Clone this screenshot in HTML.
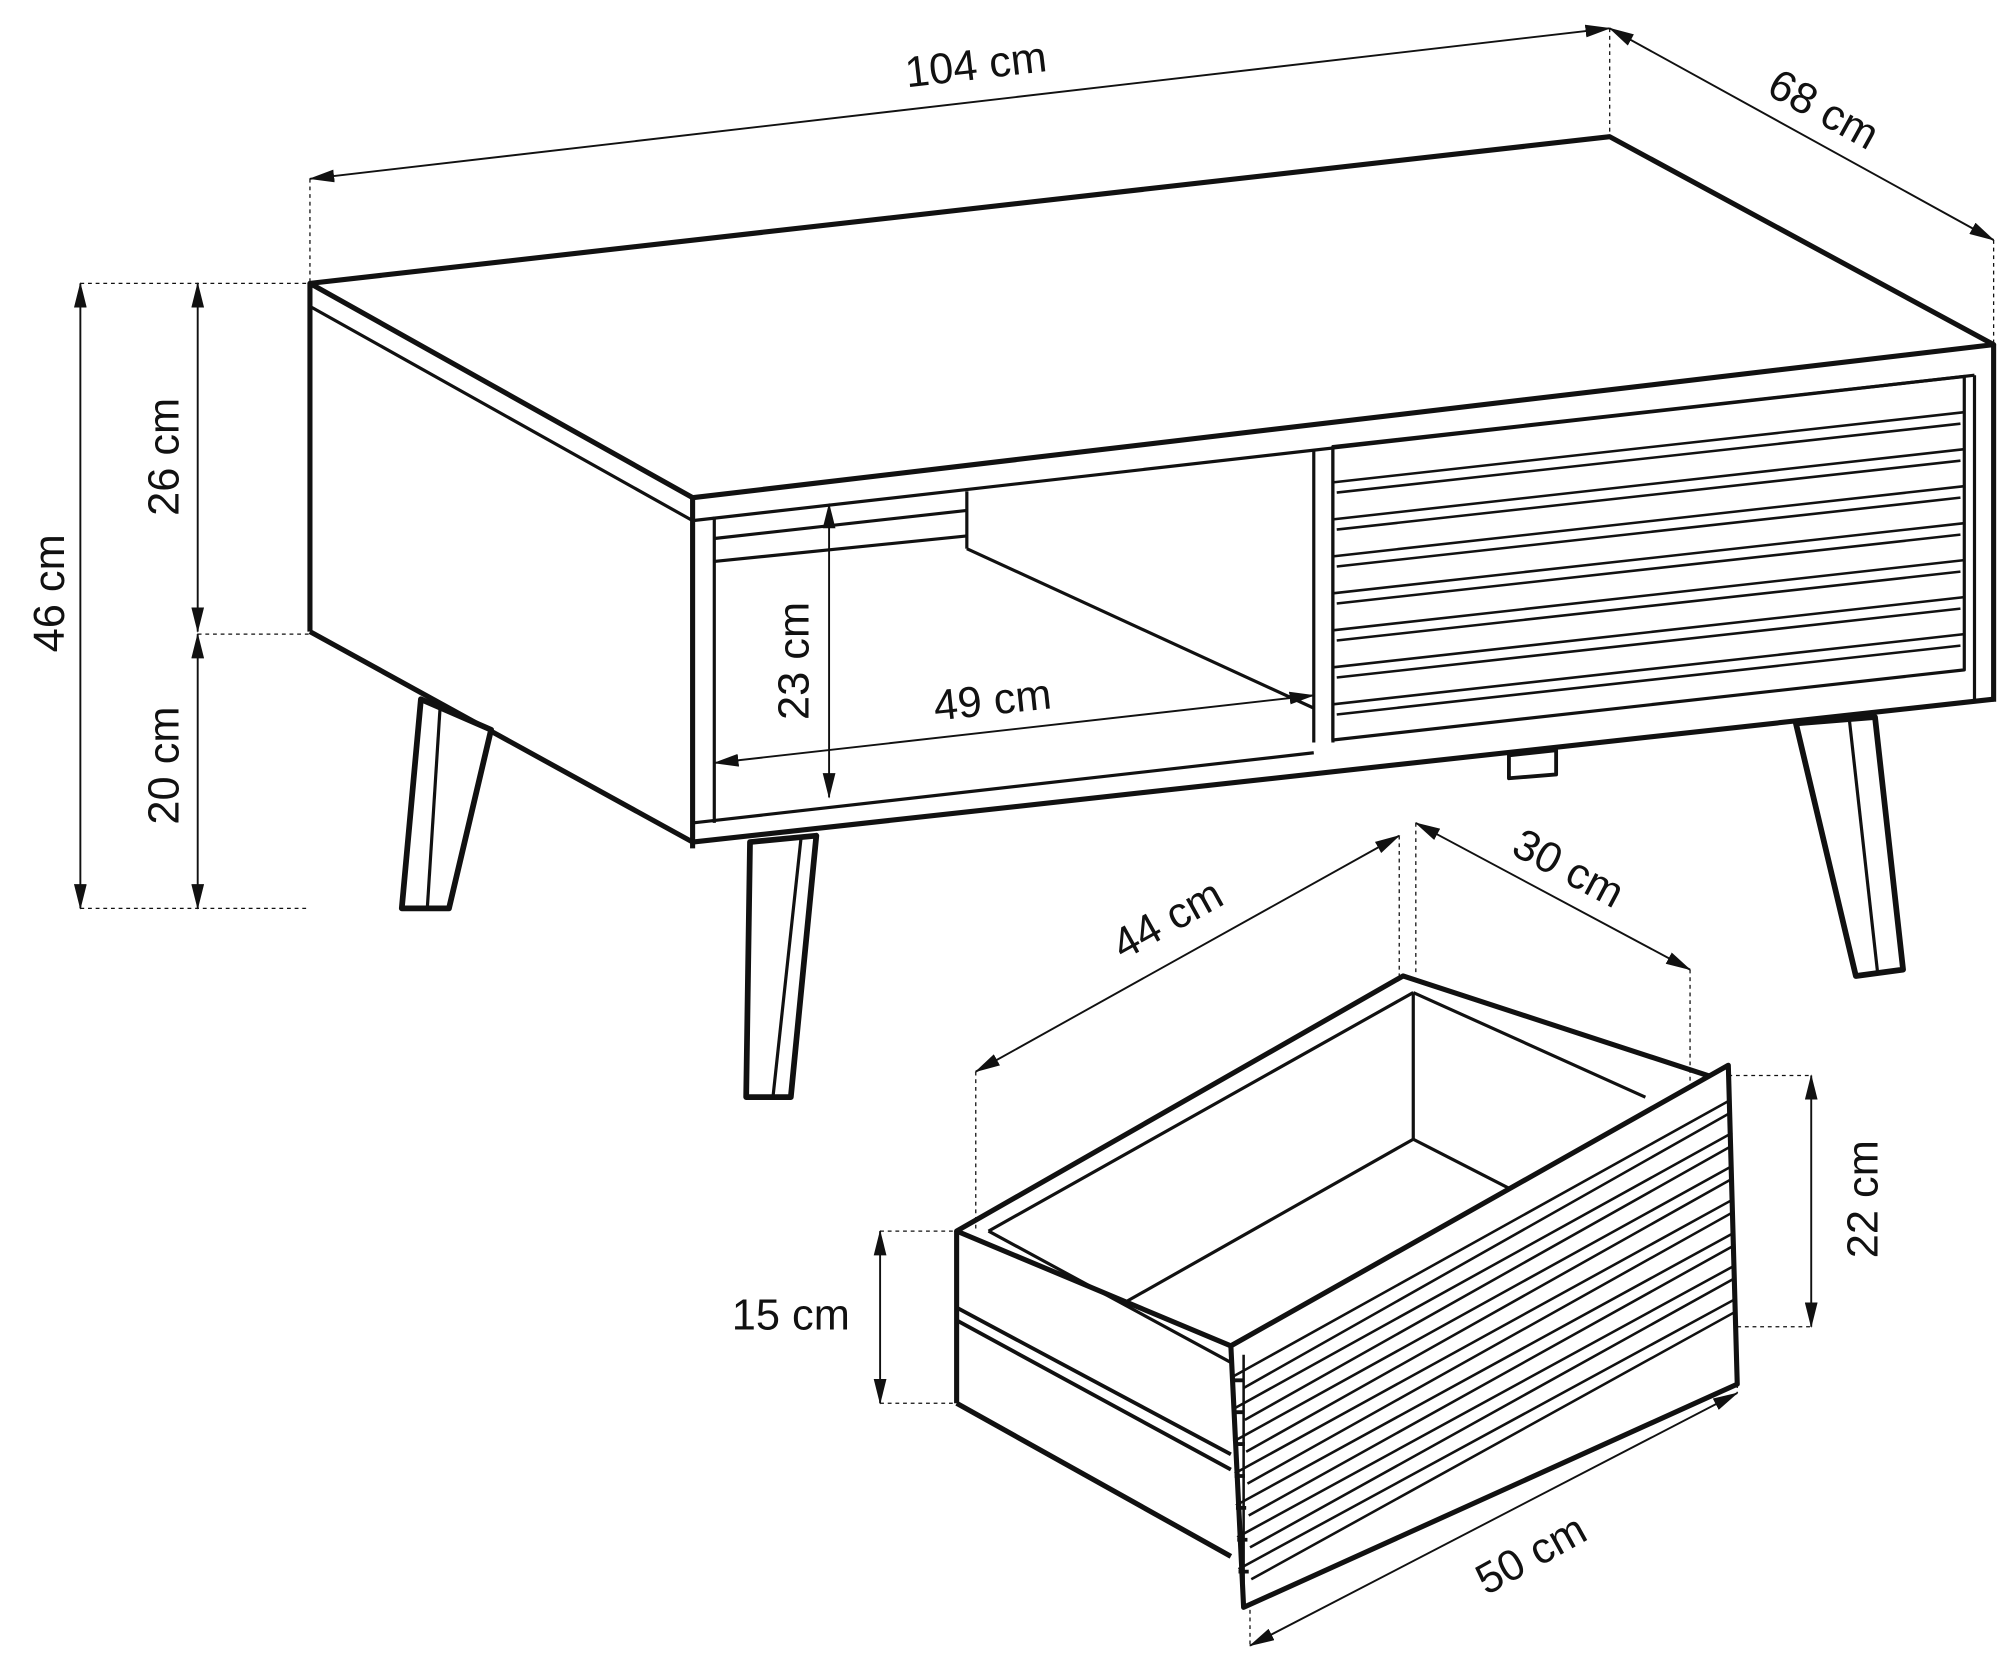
<!DOCTYPE html>
<html><head><meta charset="utf-8"><style>
html,body{margin:0;padding:0;background:#fff;}
svg{display:block}
text{font-family:"Liberation Sans",sans-serif;font-size:34px;fill:#111}
</style></head><body>
<svg width="2000" height="1679" viewBox="0 0 1568 1316" xmlns="http://www.w3.org/2000/svg">
<defs>
<marker id="a" viewBox="0 0 20 10" refX="19" refY="5" markerWidth="20" markerHeight="10" orient="auto-start-reverse" markerUnits="userSpaceOnUse"><path d="M0,0 L20,5 L0,10 z" fill="#111"/></marker>
</defs>
<g fill="none" stroke="#111" stroke-width="2.5" stroke-linejoin="round">
<polygon points="243,222 1262,107 1563,270 543,390" fill="#fff" stroke-width="4"/>
<line x1="243" y1="240" x2="543" y2="408"/>
<line x1="543" y1="408" x2="1548" y2="294"/>
<line x1="543" y1="390" x2="543" y2="665" stroke-width="4"/>
<line x1="1563" y1="270" x2="1563" y2="550" stroke-width="4"/>
<line x1="243" y1="222" x2="243" y2="495" stroke-width="4"/>
<line x1="243" y1="495" x2="543" y2="660" stroke-width="4"/>
<line x1="543" y1="660" x2="1563" y2="548" stroke-width="4"/>
<line x1="543" y1="645" x2="1030" y2="590"/>
<line x1="1548" y1="294" x2="1548" y2="548"/>
<line x1="560" y1="405" x2="560" y2="645"/>
<line x1="560" y1="422" x2="758" y2="400"/>
<line x1="560" y1="440" x2="758" y2="420"/>
<line x1="758" y1="385" x2="758" y2="430"/>
<line x1="758" y1="430" x2="1030" y2="555"/>
<line x1="1030" y1="352" x2="1030" y2="582"/>
<line x1="1045" y1="350" x2="1045" y2="582"/>
<polygon points="1045,350 1540,295 1540,525 1045,580"/>
<g stroke-width="2">
<line x1="1045" y1="378" x2="1540" y2="323"/><line x1="1048" y1="386" x2="1537" y2="332"/>
<line x1="1045" y1="407" x2="1540" y2="352"/><line x1="1048" y1="415" x2="1537" y2="361"/>
<line x1="1045" y1="436" x2="1540" y2="381"/><line x1="1048" y1="444" x2="1537" y2="390"/>
<line x1="1045" y1="465" x2="1540" y2="410"/><line x1="1048" y1="473" x2="1537" y2="419"/>
<line x1="1045" y1="494" x2="1540" y2="439"/><line x1="1048" y1="502" x2="1537" y2="448"/>
<line x1="1045" y1="523" x2="1540" y2="468"/><line x1="1048" y1="531" x2="1537" y2="477"/>
<line x1="1045" y1="552" x2="1540" y2="497"/><line x1="1048" y1="560" x2="1537" y2="506"/>
</g>
<polygon points="330,548 385,572 352,712 315,712" stroke-width="4.5" fill="#fff"/>
<line x1="345" y1="555" x2="335" y2="712"/>
<polygon points="588,660 640,655 620,860 585,860" stroke-width="4.5" fill="#fff"/>
<line x1="628" y1="657" x2="606" y2="860"/>
<polygon points="1408,567 1470,562 1492,760 1455,765" stroke-width="4.5" fill="#fff"/>
<line x1="1450" y1="565" x2="1472" y2="762"/>
<polygon points="1183,592 1220,588 1220,607 1183,610" stroke-width="3"/>
<!-- drawer -->
<polygon points="750,965 1100,765 1345,845 965,1055" fill="#fff" stroke-width="4"/>
<line x1="775" y1="965" x2="1108" y2="778"/>
<line x1="775" y1="965" x2="965" y2="1068"/>
<line x1="1108" y1="778" x2="1108" y2="893"/>
<line x1="1108" y1="778" x2="1290" y2="860"/>
<line x1="880" y1="1022" x2="1108" y2="893"/>
<line x1="1108" y1="893" x2="1190" y2="935"/>
<line x1="750" y1="965" x2="750" y2="1100" stroke-width="4"/>
<line x1="750" y1="1100" x2="965" y2="1220" stroke-width="4"/>
<line x1="750" y1="1025" x2="965" y2="1140" stroke-width="3"/>
<line x1="750" y1="1035" x2="965" y2="1152" stroke-width="3"/>
<polygon points="965,1055 1355,835 1362,1085 975,1260" fill="#fff" stroke-width="4"/>
<g stroke-width="2">
<line x1="965" y1="1080" x2="1357" y2="862"/><line x1="975" y1="1088" x2="1357" y2="872"/>
<line x1="966" y1="1105" x2="1358" y2="888"/><line x1="976" y1="1113" x2="1358" y2="898"/>
<line x1="967" y1="1130" x2="1358" y2="914"/><line x1="977" y1="1138" x2="1358" y2="924"/>
<line x1="968" y1="1155" x2="1359" y2="940"/><line x1="978" y1="1163" x2="1359" y2="950"/>
<line x1="969" y1="1180" x2="1360" y2="966"/><line x1="979" y1="1188" x2="1360" y2="976"/>
<line x1="970" y1="1205" x2="1360" y2="992"/><line x1="980" y1="1213" x2="1360" y2="1002"/>
<line x1="971" y1="1230" x2="1361" y2="1018"/><line x1="981" y1="1238" x2="1361" y2="1028"/>
<line x1="975" y1="1062" x2="975" y2="1260"/>
</g>
<g stroke-width="3">
<path d="M967,1082 h8 M967,1107 h8 M968,1132 h8 M968,1157 h8 M969,1182 h8 M970,1207 h8 M971,1232 h8"/>
</g>
</g>
<g stroke="#111" stroke-width="1.5" fill="none">
<line x1="243" y1="140" x2="1262" y2="22" marker-start="url(#a)" marker-end="url(#a)"/>
<line x1="1262" y1="22" x2="1563" y2="188" marker-start="url(#a)" marker-end="url(#a)"/>
<line x1="63" y1="222" x2="63" y2="712" marker-start="url(#a)" marker-end="url(#a)"/>
<line x1="155" y1="222" x2="155" y2="495" marker-start="url(#a)" marker-end="url(#a)"/>
<line x1="155" y1="497" x2="155" y2="712" marker-start="url(#a)" marker-end="url(#a)"/>
<line x1="650" y1="395" x2="650" y2="625" marker-start="url(#a)" marker-end="url(#a)"/>
<line x1="560" y1="598" x2="1030" y2="545" marker-start="url(#a)" marker-end="url(#a)"/>
<line x1="765" y1="840" x2="1097" y2="655" marker-start="url(#a)" marker-end="url(#a)"/>
<line x1="1110" y1="645" x2="1325" y2="760" marker-start="url(#a)" marker-end="url(#a)"/>
<line x1="690" y1="965" x2="690" y2="1100" marker-start="url(#a)" marker-end="url(#a)"/>
<line x1="1420" y1="843" x2="1420" y2="1040" marker-start="url(#a)" marker-end="url(#a)"/>
<line x1="980" y1="1290" x2="1362" y2="1092" marker-start="url(#a)" marker-end="url(#a)"/>
</g>
<g stroke="#111" stroke-width="1" stroke-dasharray="3,3" fill="none">
<line x1="243" y1="140" x2="243" y2="222"/>
<line x1="1262" y1="22" x2="1262" y2="107"/>
<line x1="1563" y1="188" x2="1563" y2="270"/>
<line x1="63" y1="222" x2="243" y2="222"/>
<line x1="155" y1="497" x2="243" y2="497"/>
<line x1="63" y1="712" x2="243" y2="712"/>
<line x1="765" y1="840" x2="765" y2="965"/>
<line x1="1097" y1="655" x2="1097" y2="765"/>
<line x1="1110" y1="645" x2="1110" y2="765"/>
<line x1="1325" y1="760" x2="1325" y2="850"/>
<line x1="690" y1="965" x2="750" y2="965"/>
<line x1="690" y1="1100" x2="750" y2="1100"/>
<line x1="1355" y1="843" x2="1420" y2="843"/>
<line x1="1362" y1="1040" x2="1420" y2="1040"/>
<line x1="1362" y1="1085" x2="1362" y2="1092"/>
<line x1="980" y1="1262" x2="980" y2="1290"/>
</g>
<text x="765" y="62" text-anchor="middle" transform="rotate(-6.6 765 50)">104 cm</text>
<text x="1430" y="97" text-anchor="middle" transform="rotate(29 1430 85)">68 cm</text>
<text x="38" y="477" text-anchor="middle" transform="rotate(-90 38 465)">46 cm</text>
<text x="128" y="370" text-anchor="middle" transform="rotate(-90 128 358)">26 cm</text>
<text x="128" y="612" text-anchor="middle" transform="rotate(-90 128 600)">20 cm</text>
<text x="622" y="530" text-anchor="middle" transform="rotate(-90 622 518)">23 cm</text>
<text x="778" y="560" text-anchor="middle" transform="rotate(-6 778 548)">49 cm</text>
<text x="915" y="732" text-anchor="middle" transform="rotate(-29 915 720)">44 cm</text>
<text x="1230" y="692" text-anchor="middle" transform="rotate(28 1230 680)">30 cm</text>
<text x="620" y="1042" text-anchor="middle">15 cm</text>
<text x="1460" y="952" text-anchor="middle" transform="rotate(-90 1460 940)">22 cm</text>
<text x="1200" y="1230" text-anchor="middle" transform="rotate(-29 1200 1218)">50 cm</text>
</svg>
</body></html>
